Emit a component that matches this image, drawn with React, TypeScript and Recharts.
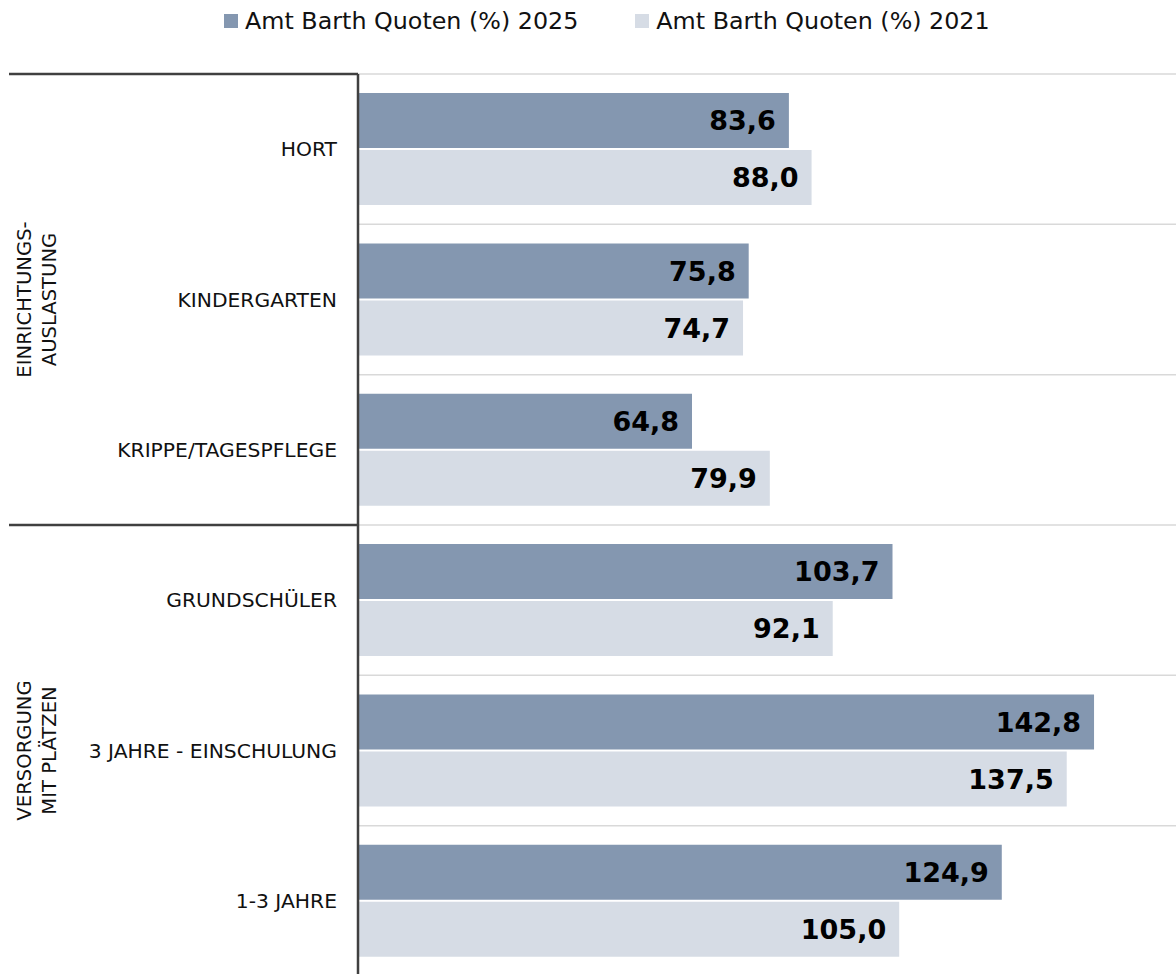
import { Bar, BarChart, CartesianGrid, LabelList, XAxis, YAxis } from 'recharts';

const categories = [
  'HORT',
  'KINDERGARTEN',
  'KRIPPE/TAGESPFLEGE',
  'GRUNDSCHÜLER',
  '3 JAHRE - EINSCHULUNG',
  '1-3 JAHRE',
];
const quoten2025 = [83.6, 75.8, 64.8, 103.7, 142.8, 124.9];
const quoten2021 = [88.0, 74.7, 79.9, 92.1, 137.5, 105.0];
const seriesNames = ['Amt Barth Quoten (%) 2025', 'Amt Barth Quoten (%) 2021'];
const groups = [
  { lines: ['EINRICHTUNGS-', 'AUSLASTUNG'], from: 0, to: 3 },
  { lines: ['VERSORGUNG', 'MIT PLÄTZEN'], from: 3, to: 6 },
];

const COLOR_2025 = '#8497B0';
const COLOR_2021 = '#D6DCE5';
const FONT = '"DejaVu Sans", sans-serif';

const W = 1176;
const H = 976;
const TOP = 74;
const LEFT = 358;
const PLOT_H = H - TOP;
const BAND = PLOT_H / categories.length;

const data = categories.map((name, i) => ({
  name,
  v2025: quoten2025[i],
  v2021: quoten2021[i],
}));

const fmt = (v: unknown) => Number(v).toFixed(1).replace('.', ',');

const CategoryTick = (props: any) => {
  const { y, payload } = props;
  return (
    <text
      x={LEFT - 21}
      y={y}
      textAnchor="end"
      dominantBaseline="central"
      fontFamily={FONT}
      fontSize={20.3}
      fill="#111"
    >
      {payload.value}
    </text>
  );
};

const Legend = () => (
  <div
    style={{
      position: 'absolute',
      top: 7,
      left: 224,
      display: 'flex',
      gap: 57,
      fontFamily: FONT,
      fontSize: 23.8,
      color: '#111',
      whiteSpace: 'nowrap',
    }}
  >
    {seriesNames.map((n, i) => (
      <div key={n} style={{ display: 'flex', alignItems: 'center', gap: 7 }}>
        <span
          style={{
            width: 14,
            height: 14,
            background: i === 0 ? COLOR_2025 : COLOR_2021,
            display: 'inline-block',
          }}
        />
        <span>{n}</span>
      </div>
    ))}
  </div>
);

const GroupOverlay = () => (
  <svg width={W} height={H} style={{ position: 'absolute', left: 0, top: 0, pointerEvents: 'none' }}>
    {groups.map((g) => {
      const y0 = TOP + g.from * BAND;
      const cy = TOP + ((g.from + g.to) / 2) * BAND;
      return (
        <g key={g.lines[0]}>
          <line x1={9} x2={LEFT} y1={y0} y2={y0} stroke="#404040" strokeWidth={2.5} />
          {g.lines.map((l, j) => (
            <text
              key={l}
              x={0}
              y={0}
              transform={`translate(${24 + j * 25}, ${cy}) rotate(-90)`}
              textAnchor="middle"
              dominantBaseline="central"
              fontFamily={FONT}
              fontSize={19.6}
              fill="#111"
            >
              {l}
            </text>
          ))}
        </g>
      );
    })}
  </svg>
);

export default function App() {
  return (
    <div
      style={{
        position: 'absolute',
        left: 0,
        top: 0,
        width: W,
        height: 974,
        overflow: 'hidden',
        background: '#fff',
      }}
    >
      <BarChart
        width={W}
        height={H}
        data={data}
        layout="vertical"
        margin={{ top: TOP, right: 0, bottom: 0, left: 0 }}
        barCategoryGap="12.7%"
        barGap={2}
      >
        <CartesianGrid
          vertical={false}
          stroke="#D9D9D9"
          strokeWidth={1.5}
          horizontalCoordinatesGenerator={({ offset }: any) =>
            categories.map((_, i) => offset.top + (i * offset.height) / categories.length)
          }
        />
        <XAxis type="number" domain={[0, 158.7]} hide />
        <YAxis
          type="category"
          dataKey="name"
          width={LEFT}
          axisLine={{ stroke: '#404040', strokeWidth: 2.5 }}
          tickLine={false}
          tick={<CategoryTick />}
          interval={0}
        />
        <Bar dataKey="v2025" fill={COLOR_2025} isAnimationActive={false}>
          <LabelList
            dataKey="v2025"
            position="insideRight"
            offset={13}
            formatter={fmt}
            style={{ fontFamily: FONT, fontSize: 27, fontWeight: 'bold', fill: '#000' }}
          />
        </Bar>
        <Bar dataKey="v2021" fill={COLOR_2021} isAnimationActive={false}>
          <LabelList
            dataKey="v2021"
            position="insideRight"
            offset={13}
            formatter={fmt}
            style={{ fontFamily: FONT, fontSize: 27, fontWeight: 'bold', fill: '#000' }}
          />
        </Bar>
      </BarChart>
      <GroupOverlay />
      <Legend />
    </div>
  );
}
